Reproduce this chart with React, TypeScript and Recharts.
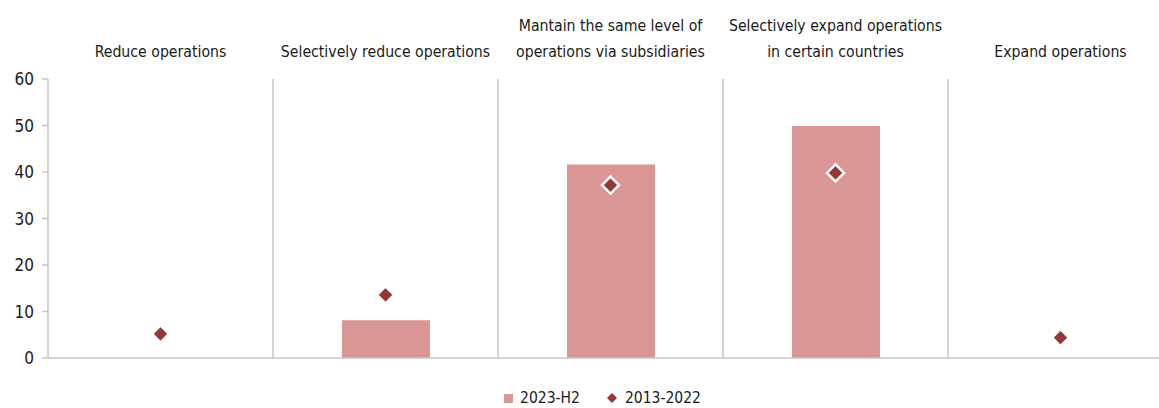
import React from 'react';
import { ComposedChart, Bar, Scatter, XAxis, YAxis, ReferenceLine, Legend } from 'recharts';

const categories = [
  'Reduce operations',
  'Selectively reduce operations',
  'Mantain the same level of\noperations via subsidiaries',
  'Selectively expand operations\nin certain countries',
  'Expand operations',
];
const recent = [0, 8.1, 41.6, 49.9, 0];
const longRun = [5.2, 13.6, 37.2, 39.8, 4.4];
const yTicks = [0, 10, 20, 30, 40, 50, 60];
const boundaries = [0, 1, 2, 3, 4, 5];
const seriesNames = ['2023-H2', '2013-2022'];

const BAR_COLOR = '#D99694';
const DOT_COLOR = '#953735';
const GRID = '#C6C6C6';
const FONT = "'DejaVu Sans Condensed', 'Liberation Sans Narrow', sans-serif";

const data = categories.map((cat, i) => ({ cat, pos: i + 0.5, recent: recent[i], longRun: longRun[i] }));

const CategoryTick = ({ x, payload }: any) => {
  const lines = String(payload.value).split('\n');
  return (
    <g>
      {lines.map((line, i) => (
        <text
          key={i}
          x={x}
          y={57 - (lines.length - 1 - i) * 26}
          textAnchor="middle"
          fontSize={15.7}
          fill="#1a1a1a"
        >
          {line}
        </text>
      ))}
    </g>
  );
};

const Diamond = ({ cx, cy }: any) => {
  const r = 8.5;
  return (
    <path
      d={`M${cx},${cy - r} L${cx + r},${cy} L${cx},${cy + r} L${cx - r},${cy} Z`}
      fill={DOT_COLOR}
      stroke="#fff"
      strokeWidth={2.5}
    />
  );
};

const LegendContent = () => (
  <div style={{ display: 'flex', justifyContent: 'center', alignItems: 'center', fontSize: 15.5, color: '#1a1a1a' }}>
    <span style={{ display: 'inline-block', width: 9, height: 9, background: BAR_COLOR, marginRight: 7 }} />
    <span style={{ marginRight: 26 }}>{seriesNames[0]}</span>
    <svg width={12} height={12} style={{ marginRight: 7 }}>
      <path d="M6,1 L11,6 L6,11 L1,6 Z" fill={DOT_COLOR} />
    </svg>
    <span>{seriesNames[1]}</span>
  </div>
);

const App: React.FC = () => (
  <div style={{ position: 'absolute', left: 0, top: 0, width: 1159, height: 408, overflow: 'hidden', fontFamily: FONT, background: '#fff' }}>
    <ComposedChart width={1180} height={408} data={data} margin={{ top: 0, right: 7, left: 0, bottom: 0 }}>
      <XAxis
        xAxisId="cat"
        dataKey="cat"
        orientation="top"
        height={79}
        axisLine={false}
        tickLine={false}
        interval={0}
        tick={<CategoryTick />}
      />
      <XAxis
        xAxisId="grid"
        dataKey="pos"
        type="number"
        domain={[0, 5]}
        ticks={boundaries}
        height={50}
        tick={false}
        tickSize={7}
        axisLine={{ stroke: GRID, strokeWidth: 1.5 }}
        tickLine={{ stroke: GRID, strokeWidth: 1.5 }}
      />
      <YAxis
        domain={[0, 60]}
        ticks={yTicks}
        width={48}
        tickSize={6}
        tickMargin={8}
        axisLine={{ stroke: GRID, strokeWidth: 1.5 }}
        tickLine={{ stroke: GRID, strokeWidth: 1.5 }}
        tick={{ fontSize: 17, fill: '#1a1a1a' }}
      />
      {boundaries.slice(1, -1).map((b) => (
        <ReferenceLine key={b} x={b} xAxisId="grid" stroke={GRID} strokeWidth={1.5} />
      ))}
      <Bar xAxisId="cat" dataKey="recent" name={seriesNames[0]} fill={BAR_COLOR} barSize={88} isAnimationActive={false} />
      <Scatter xAxisId="cat" dataKey="longRun" name={seriesNames[1]} shape={<Diamond />} isAnimationActive={false} />
      <Legend
        verticalAlign="middle"
        layout="horizontal"
        content={<LegendContent />}
        wrapperStyle={{ top: 389, left: 0, width: 1205, height: 20 }}
      />
    </ComposedChart>
  </div>
);

export default App;
